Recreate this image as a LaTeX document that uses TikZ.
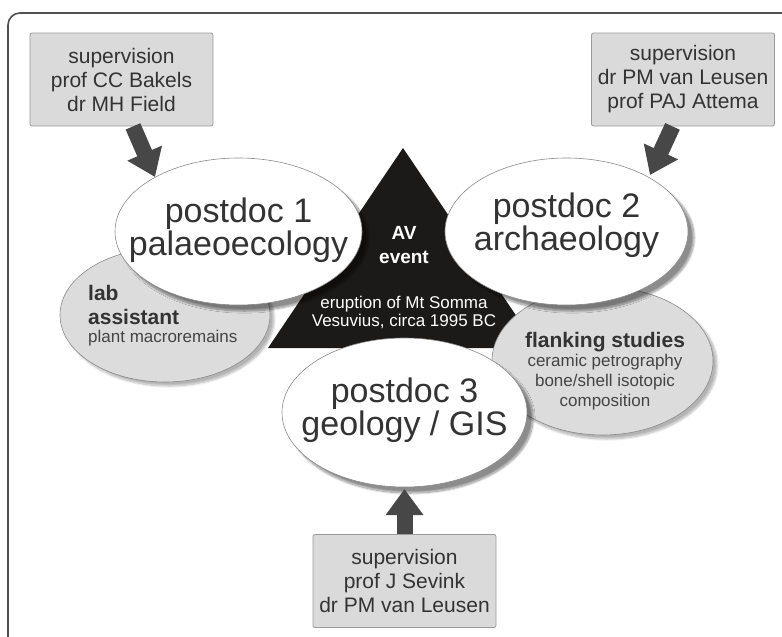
\documentclass[tikz,border=0pt]{standalone}
\usepackage{fontspec}
\setmainfont{Liberation Sans}
\usetikzlibrary{shapes.geometric,arrows.meta,shadows.blur}
\definecolor{framec}{HTML}{505050}
\definecolor{boxfill}{HTML}{DADADA}
\definecolor{boxline}{HTML}{9A9A9A}
\definecolor{arrowc}{HTML}{474747}
\definecolor{ellline}{HTML}{8A8A8A}
\definecolor{sidefill}{HTML}{DCDCDC}
\definecolor{trifill}{HTML}{1C1A19}
\definecolor{txt}{HTML}{333333}
\definecolor{subtxt}{HTML}{444444}
\tikzset{
  supbox/.style={draw=boxline, fill=boxfill, rounded corners=2pt, minimum width=183pt, minimum height=93pt, inner sep=0pt, align=center, text=txt, font=\fontsize{21}{24}\selectfont, line width=0.8pt},
  postdoc/.style={ellipse, draw=ellline, fill=white, inner sep=0pt, line width=0.6pt, blur shadow={shadow xshift=6pt, shadow yshift=-6pt, shadow blur steps=12, shadow opacity=45}},
  pdtext/.style={align=center, inner sep=0pt, text=txt, font=\fontsize{34}{31.5}\selectfont},
  sideell/.style={ellipse, draw=ellline, fill=sidefill, inner sep=0pt, line width=0.6pt, blur shadow={shadow xshift=4pt, shadow yshift=-4pt, shadow blur steps=10, shadow opacity=30}},
  bigarrow/.style={draw=arrowc, line width=16pt, -{Triangle[width=36pt,length=26pt]}},
  subtext/.style={text=subtxt, align=center, inner sep=0pt, font=\fontsize{17}{20}\selectfont},
  whitetext/.style={text=white, align=center, inner sep=0pt},
}
\begin{document}
\begin{tikzpicture}[x=1pt,y=-1pt]
\useasboundingbox (0,0) rectangle (782,637);
% frame
\draw[framec, line width=1.6pt, rounded corners=12pt] (8,13) rectangle (812,667);
% side ellipses and triangle
\node[sideell, minimum width=210pt, minimum height=134pt] (lab) at (165,315) {};
\coordinate (apex) at (403,148);
\coordinate (bl) at (268,348);
\coordinate (br) at (538,348);
\fill[trifill] (apex) -- (bl) -- (br) -- cycle;
\node[sideell, minimum width=221pt, minimum height=148pt] (flank) at (602.5,361) {};
% postdoc ellipses
\node[postdoc, minimum width=247pt, minimum height=147pt] (e1) at (238.5,231.5) {};
\node[postdoc, minimum width=243pt, minimum height=147pt] (e2) at (566.5,231.5) {};
\node[postdoc, minimum width=245pt, minimum height=149pt] (e3) at (404.5,412.5) {};
\node[pdtext] (e1t) at (238.5,230) {postdoc 1\\palaeoecology};
\node[pdtext] (e2t) at (566.5,225) {postdoc 2\\archaeology};
\node[pdtext] (e3t) at (404.5,410.5) {postdoc 3\\geology / GIS};
% texts
\node[whitetext, font=\bfseries\fontsize{19}{24}\selectfont] (av) at (404,245) {AV\\event};
\node[whitetext, font=\fontsize{17}{18}\selectfont] (erupt) at (404,312) {eruption of Mt Somma\\Vesuvius, circa 1995 BC};
\node[anchor=west, align=left, inner sep=0pt, text=txt, font=\bfseries\fontsize{21}{24}\selectfont] (labt) at (88,305) {lab\\assistant};
\node[anchor=west, subtext] (labs) at (88,338) {plant macroremains};
\node[subtext, text=txt, font=\bfseries\fontsize{21}{24}\selectfont] (flankt) at (605,342) {flanking studies};
\node[subtext] (flanks) at (605,382) {ceramic petrography\\bone/shell isotopic\\composition};
% supervision boxes
\node[supbox] (box1) at (121.5,79.5) {supervision\\prof CC Bakels\\dr MH Field};
\node[supbox] (box2) at (683,79.5) {supervision\\dr PM van Leusen\\prof PAJ Attema};
\node[supbox] (box3) at (404.5,581) {supervision\\prof J Sevink\\dr PM van Leusen};
% arrows
\coordinate (t1) at (155,177);
\coordinate (t2) at (650,175);
\coordinate (t3) at (404.5,489);
\draw[bigarrow] ([xshift=11.5pt]box1.south) -- (t1);
\draw[bigarrow] ([xshift=-10.5pt]box2.south) -- (t2);
\draw[bigarrow] (box3.north) -- (t3);
\end{tikzpicture}
\end{document}
